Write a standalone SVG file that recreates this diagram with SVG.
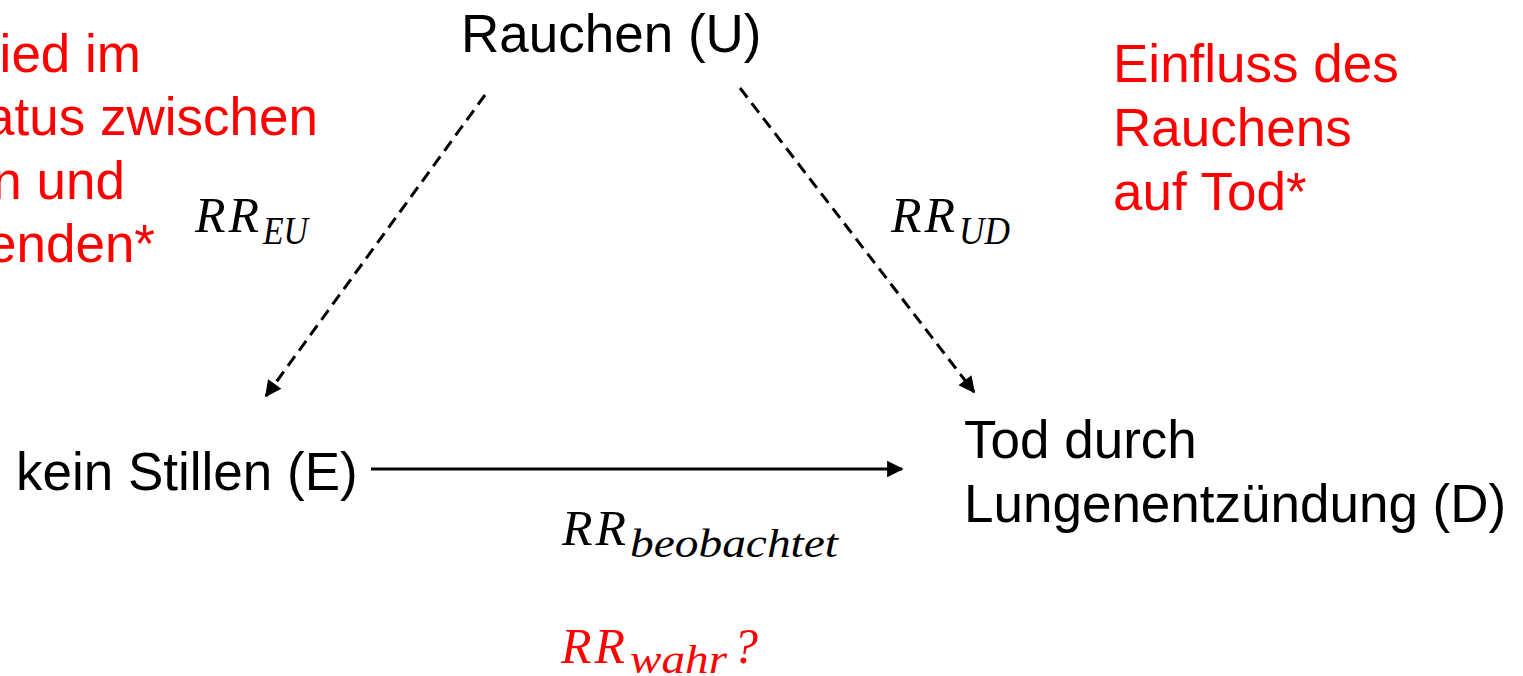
<svg xmlns="http://www.w3.org/2000/svg" width="1523" height="676" viewBox="0 0 1523 676">
<style>
.lbl{font-family:"Liberation Sans",Arial,sans-serif;font-size:53px;fill:#000}
.red{fill:#ff0000}
.math{font-family:"Liberation Serif","DejaVu Serif",serif;font-style:italic;font-size:50px;letter-spacing:3px;fill:#000}
.sub{font-family:"Liberation Serif","DejaVu Serif",serif;font-style:italic;font-size:40px;fill:#000}
.mred{fill:#ff0000}
.edge{stroke:#000;stroke-width:3;fill:none}
.dash{stroke-dasharray:12 7}
</style>
<defs>
<marker id="ah" viewBox="0 0 10 10" refX="9" refY="5" markerWidth="6" markerHeight="5.5" orient="auto" markerUnits="strokeWidth">
<path d="M0,0 L10,5 L0,10 z" fill="#000"/>
</marker>
</defs>
<rect width="1523" height="676" fill="#fff"/>
<g id="connectors">
<line class="edge dash" x1="485" y1="95" x2="266" y2="396" marker-end="url(#ah)"/>
<line class="edge dash" x1="740" y1="88" x2="974" y2="392" marker-end="url(#ah)"/>
<line class="edge" x1="371" y1="469" x2="902" y2="469" marker-end="url(#ah)"/>
</g>
<g id="node-U"><text class="lbl" x="461" y="52">Rauchen (U)</text></g>
<g id="node-E"><text class="lbl" x="16" y="490">kein Stillen (E)</text></g>
<g id="node-D"><text class="lbl" x="964" y="458">Tod durch</text><text class="lbl" x="964" y="522">Lungenentzündung (D)</text></g>
<g id="note-left" text-anchor="end">
<text class="lbl red" x="141" y="72">ied im</text>
<text class="lbl red" x="318" y="135">atus zwischen</text>
<text class="lbl red" x="125" y="199">n und</text>
<text class="lbl red" x="155" y="262">enden*</text>
</g>
<g id="note-right">
<text class="lbl red" x="1113" y="82">Einfluss des</text>
<text class="lbl red" x="1113" y="146">Rauchens</text>
<text class="lbl red" x="1113" y="210">auf Tod*</text>
</g>
<g id="label-EU">
<text class="math" x="195" y="232">RR</text>
<text class="sub" x="263" y="244" textLength="45" lengthAdjust="spacingAndGlyphs">EU</text>
</g>
<g id="label-UD">
<text class="math" x="891" y="232">RR</text>
<text class="sub" x="959" y="244" textLength="51" lengthAdjust="spacingAndGlyphs">UD</text>
</g>
<g id="label-obs">
<text class="math" x="562" y="545">RR</text>
<text class="sub" x="630" y="557" textLength="208" lengthAdjust="spacingAndGlyphs">beobachtet</text>
</g>
<g id="label-true">
<text class="math mred" x="561" y="663">RR</text>
<text class="sub mred" x="630" y="673" textLength="97" lengthAdjust="spacingAndGlyphs">wahr</text>
<text class="math mred" x="733" y="663">?</text>
</g>
</svg>
